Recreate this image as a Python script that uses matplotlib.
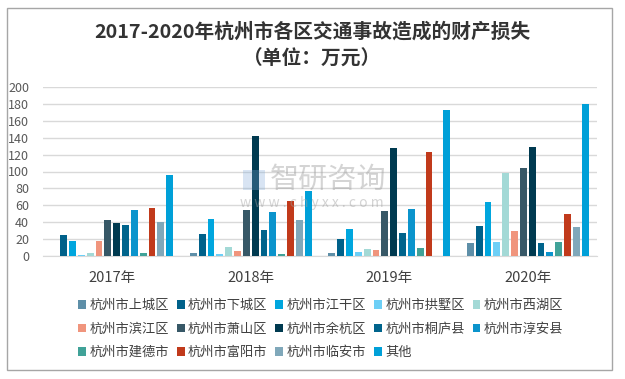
import matplotlib
matplotlib.use("Agg")
import matplotlib.pyplot as plt
from matplotlib.patches import Rectangle, Patch
import numpy as np

plt.rcParams['font.family'] = ['Noto Sans CJK SC', 'DejaVu Sans']

years = ["2017年", "2018年", "2019年", "2020年"]
districts = ["杭州市上城区", "杭州市下城区", "杭州市江干区", "杭州市拱墅区", "杭州市西湖区",
             "杭州市滨江区", "杭州市萧山区", "杭州市余杭区", "杭州市桐庐县", "杭州市淳安县",
             "杭州市建德市", "杭州市富阳市", "杭州市临安市", "其他"]
shangcheng = [0, 3.5, 3.5, 15]
xiacheng = [25, 26, 20, 35.5]
jianggan = [18, 44, 32, 64]
gongshu = [1.5, 2, 4.5, 16.5]
xihu = [4, 10.5, 8, 98]
binjiang = [18, 6, 7, 29.5]
xiaoshan = [42.5, 54.5, 53, 104]
yuhang = [39, 142, 128, 129]
tonglu = [36.5, 31, 27, 15]
chunan = [54.5, 52, 55.5, 4.5]
jiande = [3, 2.5, 9.5, 16.5]
fuyang = [57, 65, 123, 50]
linan = [40, 42.5, 0, 34]
other = [96, 77, 173, 180]
series = [shangcheng, xiacheng, jianggan, gongshu, xihu, binjiang, xiaoshan,
          yuhang, tonglu, chunan, jiande, fuyang, linan, other]
colors = ["#5E8FA8", "#00618A", "#00A6DE", "#6DCFF6", "#A3D9D6", "#F0957D", "#375867",
          "#003A50", "#00648C", "#0B94CC", "#40A298", "#C13A1B", "#80A8BA", "#00A0D8"]

fig = plt.figure(figsize=(6.25, 3.79), dpi=100)
fig.patches.append(Rectangle((7/625, 1 - 370/379), 605/625, 362/379, transform=fig.transFigure,
                             fill=False, edgecolor="#A6A6A6", linewidth=1.0))

ax = fig.add_axes([43/625, 1 - 256/379, 554/625, 169/379])
x = np.arange(len(years))
slot = 0.0638
w = 0.05
n = len(series)
for j, (vals, c) in enumerate(zip(series, colors)):
    ax.bar(x + (j - (n - 1) / 2) * slot, vals, width=w, color=c, zorder=3)

ax.set_xlim(-0.5, 3.5)
ax.set_ylim(0, 200)
ax.set_yticks(range(0, 201, 20))
ax.yaxis.grid(True, color="#D9D9D9", linewidth=1.0, zorder=0)
for s in ["top", "right", "left"]:
    ax.spines[s].set_visible(False)
ax.spines["bottom"].set_color("#D9D9D9")
ax.tick_params(axis="y", length=0, labelsize=9, colors="#595959", pad=10)
ax.tick_params(axis="x", length=0, labelsize=10.5, colors="#404040", pad=11)
ax.set_xticks(x)
ax.set_xticklabels(years)

fig.text(0.5, 1 - 32/379, "2017-2020年杭州市各区交通事故造成的财产损失", ha="center", va="center",
         fontsize=14.2, fontweight="bold", color="#333333")
fig.text(0.5, 1 - 59/379, "（单位：万元）", ha="center", va="center",
         fontsize=14.2, fontweight="bold", color="#333333")

# watermark
fig.text(328/625, 1 - 180/379, "智研咨询", ha="center", va="center", fontsize=21,
         color="#A0A0A0", alpha=0.45, zorder=10)
fig.text(312/625, 1 - 203/379, "w w w . c h y x x . c o m", ha="center", va="center", fontsize=10,
         color="#A0A0A0", alpha=0.45, zorder=10)
fig.patches.append(Rectangle((243/625, 1 - 190/379), 22/625, 20/379, transform=fig.transFigure,
                             facecolor="#7FA8D8", alpha=0.3, edgecolor="none", zorder=10))

handles = [Patch(facecolor=c, edgecolor="none") for c in colors]
order = [0, 5, 10, 1, 6, 11, 2, 7, 12, 3, 8, 13, 4, 9]
leg = fig.legend([handles[i] for i in order], [districts[i] for i in order], ncol=5,
                 loc="upper left", bbox_to_anchor=(78/625, 1 - 299/379),
                 frameon=False, fontsize=9.5, handlelength=0.6, handleheight=0.6,
                 handletextpad=0.25, columnspacing=0.6, labelspacing=0.8,
                 borderaxespad=0, borderpad=0)
for t in leg.get_texts():
    t.set_color("#404040")

fig.savefig("out.png", dpi=100)
